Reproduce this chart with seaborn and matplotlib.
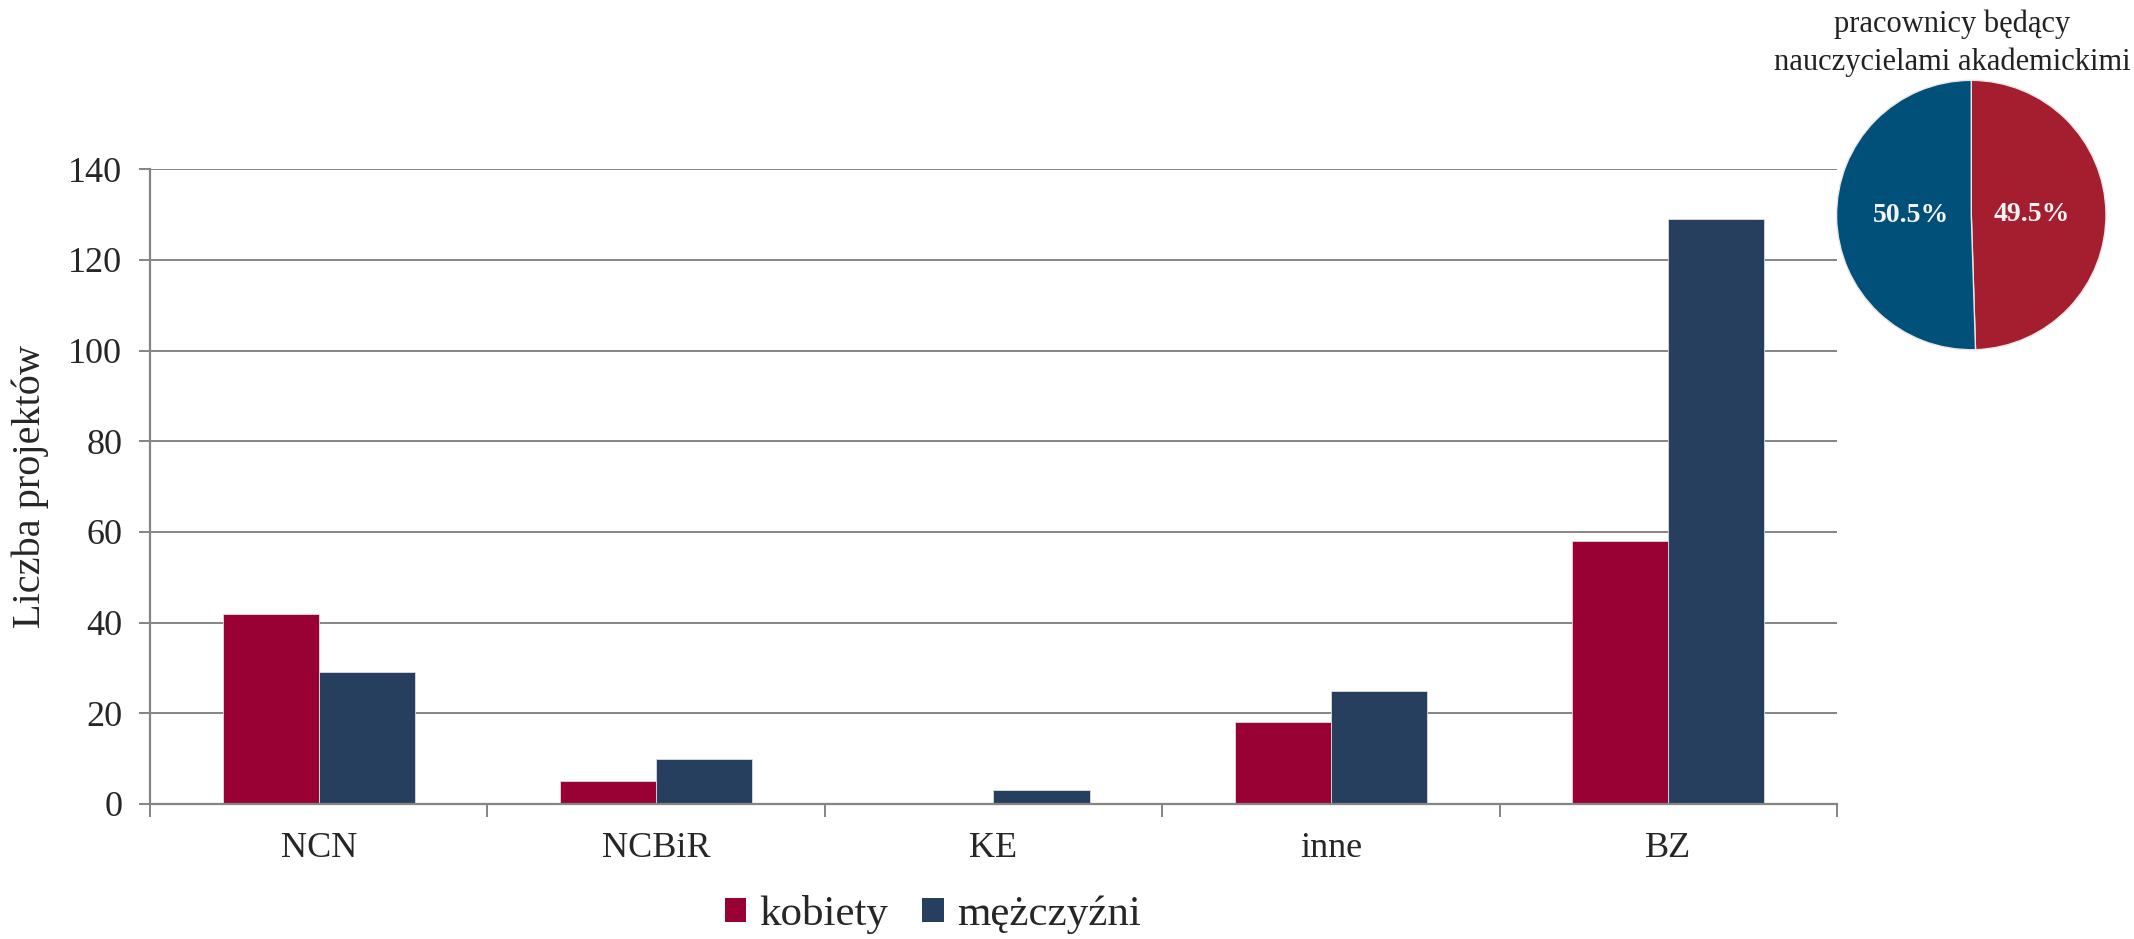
import matplotlib
matplotlib.use("Agg")
import matplotlib.pyplot as plt
import seaborn as sns
import pandas as pd
import numpy as np
from matplotlib.patches import Patch

categories = ["NCN", "NCBiR", "KE", "inne", "BZ"]
kobiety = [42, 5, 0, 18, 58]
mezczyzni = [29, 10, 3, 25, 129]
series_names = ["kobiety", "mężczyźni"]
y_ticks = [0, 20, 40, 60, 80, 100, 120, 140]
pie_labels = ["49.5%", "50.5%"]
pie_values = [49.5, 50.5]
pie_title = "pracownicy będący\nnauczycielami akademickimi"

bar_colors = ["#990033", "#263F5F"]
pie_colors = ["#A51E2F", "#00507A"]

sns.set_theme(style="white")
plt.rcParams["font.family"] = ["Liberation Serif", "DejaVu Serif"]

df = pd.DataFrame({
    "kategoria": categories * 2,
    "seria": [series_names[0]] * len(categories) + [series_names[1]] * len(categories),
    "wartosc": kobiety + mezczyzni,
})

fig = plt.figure(figsize=(21.34, 9.39), dpi=100)
ax = fig.add_axes([0.0703, 0.1438, 0.7905, 0.676])

sns.barplot(data=df, x="kategoria", y="wartosc", hue="seria", order=categories,
            hue_order=series_names, palette=bar_colors, saturation=1, width=0.57, gap=0,
            edgecolor="#dddddd", linewidth=0.6, ax=ax, legend=False, zorder=3)

ax.set_xlim(-0.5, len(categories) - 0.5)
ax.set_ylim(0, 140)
ax.set_yticks(y_ticks)
ax.yaxis.grid(True, color="#858585", linewidth=1.4, zorder=0)
ax.set_axisbelow(True)
for s in ["top", "right"]:
    ax.spines[s].set_visible(False)
for s in ["left", "bottom"]:
    ax.spines[s].set_color("#858585")
    ax.spines[s].set_linewidth(1.6)
    ax.spines[s].set_zorder(4)

ax.tick_params(axis="y", which="major", direction="out", length=8, width=1.4,
               color="#858585", labelsize=26, pad=12, left=True)
ax.set_xticks(np.arange(-0.5, len(categories), 1.0), minor=True)
ax.tick_params(axis="x", which="minor", direction="out", length=9, width=1.4,
               color="#858585", bottom=True)
ax.tick_params(axis="x", which="major", length=0, labelsize=26, pad=20)
ax.set_xlabel("")
ax.set_ylabel("Liczba projektów", fontsize=29, labelpad=14)

handles = [Patch(facecolor=c, edgecolor="none") for c in bar_colors]
fig.legend(handles, series_names, loc="center", bbox_to_anchor=(0.437, 0.026),
           ncol=2, frameon=False, fontsize=31, handlelength=0.5, handleheight=0.5,
           handletextpad=0.3, columnspacing=0.8)

pax = fig.add_axes([0.86, 0.626, 0.1275, 0.29])
wedges, texts = pax.pie(pie_values, colors=pie_colors, startangle=90, counterclock=False,
                        wedgeprops=dict(edgecolor="#e8e8e8", linewidth=1.0))
for w, lab in zip(wedges, pie_labels):
    ang = np.deg2rad((w.theta1 + w.theta2) / 2)
    pax.text(0.45 * np.cos(ang), 0.45 * np.sin(ang), lab, ha="center", va="center",
             color="#f4f4f4", fontsize=20, fontweight="bold")
pax.set_xlim(-1.01, 1.01)
pax.set_ylim(-1.01, 1.01)
pax.set_aspect("equal")
fig.text(0.915, 0.99, pie_title, ha="center", va="top", fontsize=22, linespacing=1.4,
         color="#222222")

fig.savefig("out.png", dpi=100)
